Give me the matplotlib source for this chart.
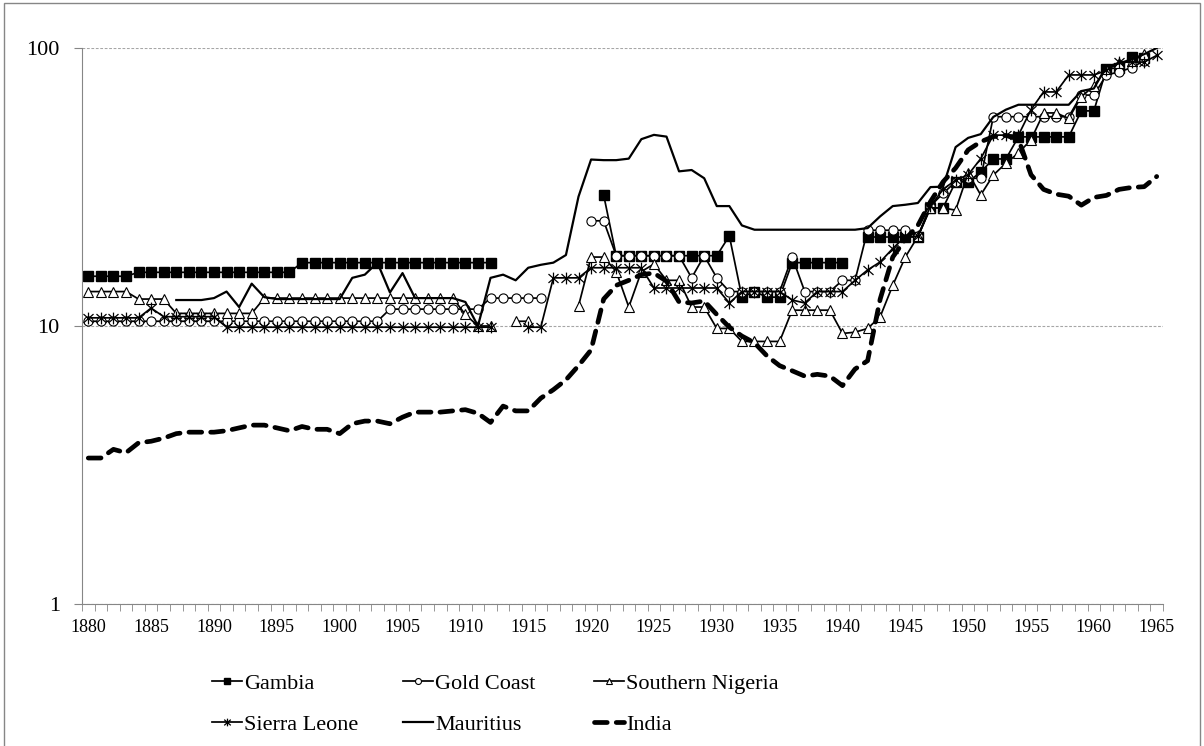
import numpy as np
import matplotlib
matplotlib.use("Agg")
import matplotlib.pyplot as plt
from matplotlib.path import Path
from matplotlib.patches import Rectangle

plt.rcParams['font.family'] = ['Liberation Serif', 'DejaVu Serif']

nan = np.nan
years = list(range(1880, 1966))

gambia = ([15.1] * 4 + [15.6] * 13 + [16.9] * 16 + [nan] * 8
          + [29.6] + [17.9] * 9 + [21.1, 12.7, 13.3, 12.7, 12.7]
          + [16.9] * 5 + [nan] + [20.9] * 5 + [26.6, 26.6, 33, 33, 35.8]
          + [39.9, 39.9] + [47.9] * 5 + [59.4, 59.4, 84, 85, 92.8, 92, nan])

gold_coast = ([10.4] * 24 + [11.5] * 8 + [12.6] * 5 + [nan] * 3
              + [23.9, 23.9] + [17.9] * 6 + [14.9, 17.9, 14.9]
              + [13.3] * 5 + [17.7] + [13.3] * 3 + [14.6, 14.6]
              + [22.1] * 4 + [21, 27, 30, 33, 34, 34]
              + [56.6] * 7 + [67.7, 67.7, 80, 82, 85, 90, nan])

southern_nigeria = ([13.3] * 4 + [12.5] * 3 + [11.1] * 7 + [12.6] * 16
                    + [11.0, 10.0, 10.0, nan, 10.4, 10.4, nan, nan, nan]
                    + [11.8, 17.7, 17.7, 15.7, 11.7, 15.7, 16.7, 14.6, 14.6]
                    + [11.7, 11.7, 9.8, 9.8] + [8.8] * 4 + [11.4] * 4
                    + [9.4, 9.5, 9.8, 10.8, 14, 17.7, 21, 26.6, 26.6, 26.1]
                    + [35.5, 29.6, 34.9, 38.5, 41.9, 46.8, 58.4, 58.4, 55.8]
                    + [66.8, 73, 84, 88, 90, 95, nan])

sierra_leone = ([10.7] * 5 + [11.6] + [10.8] * 5 + [9.9] * 22
                + [nan, nan, 9.9, 9.9] + [14.9] * 3 + [16.2] * 5
                + [13.7] * 6 + [12.1] + [13.3] * 4 + [12.4, 12.1]
                + [13.3] * 3 + [14.6, 15.9, 17.0, 19, 21, 21, 27, 31, 33.5, 35, 40]
                + [48.6] * 3 + [60, 69.5, 69.5] + [80] * 3
                + [83, 89, 89, 89, 94])

mauritius = ([nan] * 7 + [12.4, 12.4, 12.4, 12.6, 13.3, 11.7, 14.2, 12.7]
             + [12.5] * 6 + [14.9, 15.3, 16.9, 13.2, 15.5] + [12.6] * 4
             + [12.2, 10.0, 14.9, 15.3, 14.6, 16.2, 16.6, 16.9, 18.0, 29.2]
             + [39.7, 39.5, 39.5, 40, 47, 48.7, 48, 36, 36.4, 34, 27, 27, 23]
             + [22.2] * 9
             + [22.5, 24.8, 27, 27.3, 27.7, 31.6, 31.7, 44, 47.5, 49, 56.5, 60, 62.5]
             + [62.5] * 4 + [70, 71.5, 86, 88, 91, 95, 100])

india = [3.35, 3.35, 3.6, 3.5, 3.8, 3.85, 3.95, 4.1, 4.15, 4.15,
         4.15, 4.2, 4.3, 4.4, 4.4, 4.3, 4.2, 4.35, 4.25, 4.25,
         4.1, 4.45, 4.55, 4.55, 4.45, 4.7, 4.9, 4.9, 4.9, 4.95,
         5.0, 4.85, 4.5, 5.15, 4.95, 4.95, 5.5, 5.9, 6.4, 7.2,
         8.2, 12.5, 14.0, 14.6, 15.3, 15.5, 14.5, 12.2, 12.1, 12.3,
         11.0, 9.9, 9.2, 8.7, 7.8, 7.2, 6.9, 6.6, 6.7, 6.6,
         6.1, 7.0, 7.5, 12.5, 17.7, 20.5, 23, 28, 33, 37,
         43, 46, 48, 48.5, 47, 35, 31, 29.8, 29.3, 27.2,
         29, 29.5, 31, 31.5, 31.7, 34.5]

# Excel-like "star" marker: an X with a vertical bar
star = Path([(0, -1), (0, 1), (-0.85, -0.75), (0.85, 0.75), (-0.85, 0.75), (0.85, -0.75)],
            [Path.MOVETO, Path.LINETO, Path.MOVETO, Path.LINETO, Path.MOVETO, Path.LINETO])

W, H = 1204, 746
fig = plt.figure(figsize=(W / 100, H / 100), dpi=100)
ax = fig.add_axes([82 / W, 1 - 604 / H, (1163 - 82) / W, (604 - 48) / H])

lw = 1.25
ax.plot(years, gambia, color='black', lw=lw, marker='s', ms=6.6, mfc='black', mec='black')
ax.plot(years, gold_coast, color='black', lw=lw, marker='o', ms=6.6, mfc='white', mec='black', mew=0.8)
ax.plot(years, southern_nigeria, color='black', lw=lw, marker='^', ms=7, mfc='white', mec='black', mew=0.8)
ax.plot(years, sierra_leone, color='black', lw=lw, marker=star, ms=8.5, mec='black', mew=0.9)
ax.plot(years, mauritius, color='black', lw=1.6)
ax.plot(years, india, color='black', lw=3.4, dashes=(2.7, 1.9), dash_capstyle='round')

ax.set_yscale('log')
ax.set_ylim(1, 100)
ax.set_xlim(1879.5, 1965.5)
ax.set_yticks([1, 10, 100])
ax.set_yticklabels(['1', '10', '100'])
ax.yaxis.set_minor_locator(matplotlib.ticker.NullLocator())
ax.set_xticks(range(1880, 1966, 5))
ax.set_xticks(np.arange(1879.5, 1966, 1), minor=True)

gray = '#868686'
ax.tick_params(axis='y', which='major', length=6, color=gray, labelsize=16, pad=10)
ax.tick_params(axis='x', which='major', length=0, labelsize=13, pad=11)
ax.tick_params(axis='x', which='minor', length=5, color=gray)
for side in ['top', 'right']:
    ax.spines[side].set_visible(False)
for side in ['left', 'bottom']:
    ax.spines[side].set_color(gray)
ax.yaxis.grid(True, which='major', color='#a6a6a6', lw=0.8, dashes=(2.5, 1.5))

# legend in three columns
hs = ax.get_lines()
labels = ['Gambia', 'Gold Coast', 'Southern Nigeria', 'Sierra Leone', 'Mauritius', 'India']
cols = [(0, 3, 212), (1, 4, 403), (2, 5, 594)]
for a, b, xpix in cols:
    fig.legend([hs[a], hs[b]], [labels[a], labels[b]], loc='upper left',
               bbox_to_anchor=(xpix / W, 1 - 673 / H), frameon=False,
               fontsize=16, handlelength=1.35, handletextpad=0.1,
               labelspacing=0.95, borderpad=0, borderaxespad=0, markerscale=0.65)

fig.patches.append(Rectangle((3.5 / W, -0.05), (1200 - 3.5) / W, 1.05 - 3.5 / H,
                             transform=fig.transFigure, fill=False, ec=gray, lw=1))

fig.savefig('out.png', dpi=100)
